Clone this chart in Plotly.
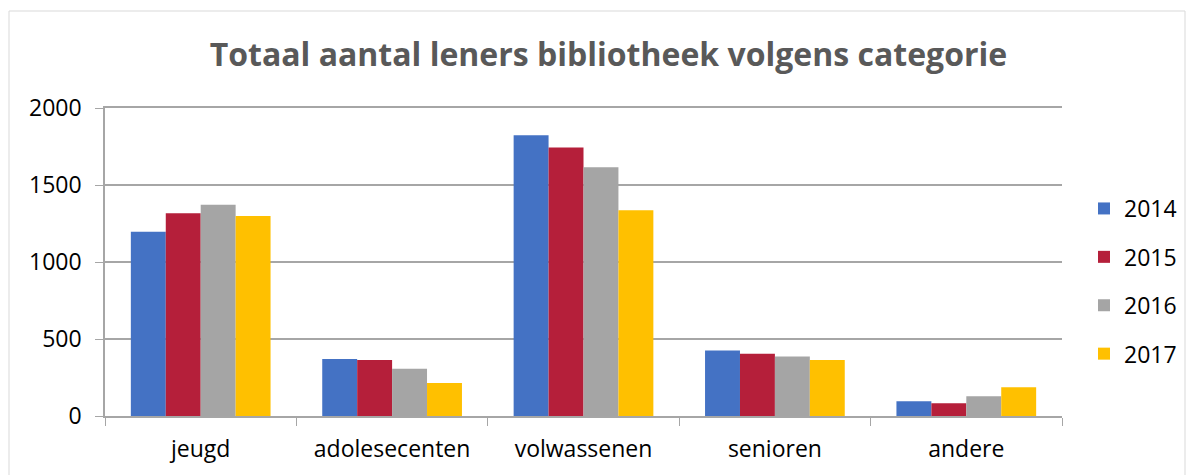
import plotly.graph_objects as go

categories = ["jeugd", "adolesecenten", "volwassenen", "senioren", "andere"]
years = ["2014", "2015", "2016", "2017"]
v2014 = [1197, 370, 1823, 426, 95]
v2015 = [1316, 364, 1743, 405, 82]
v2016 = [1372, 307, 1615, 387, 128]
v2017 = [1299, 214, 1336, 364, 186]
y_ticks = [0, 500, 1000, 1500, 2000]

colors = ["#4472C4", "#B51F3A", "#A5A5A5", "#FFC000"]
series = [v2014, v2015, v2016, v2017]

W, H = 1193, 475
ml, mr, mt, mb = 105, 131, 108, 59
font = "Open Sans, Calibri, sans-serif"
label_size = 23

fig = go.Figure()
for name, vals, col in zip(years, series, colors):
    fig.add_trace(go.Bar(
        x=categories, y=vals, name=name, legendgroup=name,
        marker=dict(color=col, line=dict(width=0)),
    ))

# outer chart frame, converted from pixels to paper units
pw, ph = W - ml - mr, H - mt - mb
def px_x(p):
    return (p - ml) / pw
def px_y(p):
    return (H - mb - p) / ph

fig.add_shape(type="rect", xref="paper", yref="paper",
              x0=px_x(9), x1=px_x(1185), y0=px_y(480), y1=px_y(11),
              line=dict(color="#D9D9D9", width=1), layer="below")

fig.update_layout(
    width=W, height=H,
    margin=dict(l=ml, r=mr, t=mt, b=mb, autoexpand=False),
    paper_bgcolor="white", plot_bgcolor="white",
    barmode="group", bargap=0.27, bargroupgap=0,
    font=dict(family=font, size=label_size, color="black"),
    title=dict(text="<b>Totaal aantal leners bibliotheek volgens categorie</b>",
               x=0.51, xanchor="center", y=1 - 55 / H, yanchor="middle",
               font=dict(family=font, size=32, color="#595959")),
    legend=dict(x=px_x(1084), xanchor="left", y=px_y(187), yanchor="top",
                font=dict(size=label_size), tracegroupgap=15.5,
                itemwidth=30, bgcolor="rgba(0,0,0,0)"),
    showlegend=True,
)
fig.update_xaxes(showline=True, mirror=True, linecolor="#A6A6A6", linewidth=1.5,
                 ticks="outside", tickson="boundaries", ticklen=8,
                 tickcolor="#A6A6A6", showgrid=False, ticklabelstandoff=12,
                 tickfont=dict(size=label_size, color="black"))
fig.update_yaxes(range=[0, 2000], tickvals=y_ticks, showline=True,
                 linecolor="#A6A6A6", linewidth=1.5, ticks="outside",
                 ticklen=8, tickcolor="#A6A6A6", gridcolor="#A6A6A6",
                 gridwidth=1.5, zeroline=False, ticklabelstandoff=9,
                 tickfont=dict(size=label_size, color="black"))

fig.write_html("out.html")
